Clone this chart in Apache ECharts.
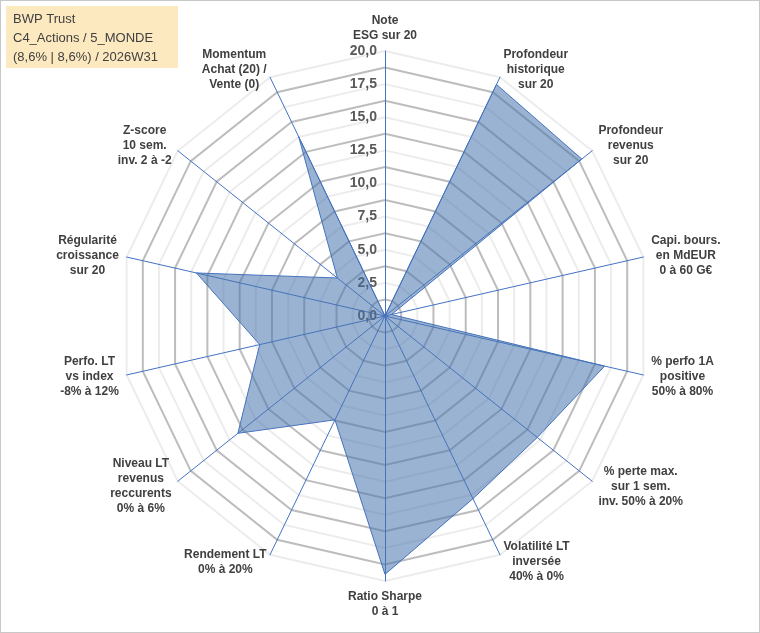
<!DOCTYPE html>
<html><head><meta charset="utf-8">
<script src="https://cdn.jsdelivr.net/npm/echarts@6/dist/echarts.min.js"></script>
<style>html,body{margin:0;padding:0;background:#fff}#c{width:758px;height:631px;border:1px solid #c8c8c8}</style>
</head><body><div id="c"></div>
<script>
// clockwise from top
const categories = ["Note\nESG sur 20","Profondeur\nhistorique\nsur 20","Profondeur\nrevenus\nsur 20","Capi. bours.\nen MdEUR\n0 à 60 G€","% perfo 1A\npositive\n50% à 80%","% perte max.\nsur 1 sem.\ninv. 50% à 20%","Volatilité LT\ninversée\n40% à 0%","Ratio Sharpe\n0 à 1","Rendement LT\n0% à 20%","Niveau LT\nrevenus\nreccurents\n0% à 6%","Perfo. LT\nvs index\n-8% à 12%","Régularité\ncroissance\nsur 20","Z-score\n10 sem.\ninv. 2 à -2","Momentum\nAchat (20) /\nVente (0)"];
const values = [0, 19.4, 19.0, 0.5, 17.0, 14.7, 15.3, 19.5, 8.7, 14.2, 9.7, 14.6, 4.6, 15.0];
const ticks = ["0,0","2,5","5,0","7,5","10,0","12,5","15,0","17,5","20,0"];
const title = "BWP Trust\nC4_Actions / 5_MONDE\n(8,6% | 8,6%) / 2026W31";

const order = [0]; for (let i = categories.length-1; i>0; i--) order.push(i);
const ind = order.map(i => ({name: categories[i], max: 20, min: 0}));
const vals = order.map(i => values[i]);
const splitColors = [];
for (let i=0;i<16;i++) splitColors.push(i%2===0 ? '#ececec' : '#bdbdbd');
const chart = echarts.init(document.getElementById('c'));
const cx = 384, cy = 315, R = 265;
chart.setOption({
  animation:false,
  radar:{
    center:[cx,cy], radius:R, startAngle:90, shape:'polygon', splitNumber:16,
    indicator: ind, nameGap: 8,
    axisName:{color:'#404040', fontWeight:'bold', fontSize:12, fontFamily:'Liberation Sans, Arial', lineHeight:15,
      formatter: n => n.split('\n').map(s => '{c|' + s + '}').join('\n'),
      rich:{c:{align:'center', color:'#404040', fontWeight:'bold', fontSize:12, fontFamily:'Liberation Sans, Arial', lineHeight:15}}},
    axisLine:{lineStyle:{color:'#4472c4', width:1}},
    splitLine:{lineStyle:{color:splitColors, width:[2]}},
    splitArea:{show:false},
    axisLabel:{show:false}
  },
  polar:{center:[cx,cy], radius:R},
  angleAxis:{show:false, startAngle:90, min:0, max:360},
  radiusAxis:{min:0,max:20,interval:2.5, axisLine:{show:false}, axisTick:{show:false}, splitLine:{show:false},
    axisLabel:{formatter:v=>ticks[Math.round(v/2.5)], color:'#595959', fontWeight:'bold', fontSize:14, fontFamily:'Liberation Sans, Arial', align:'right', margin:4, padding:[0,4,0,0]}},
  series:[{type:'radar', symbol:'none', data:[{value:vals}],
    lineStyle:{color:'#4472c4', width:1}, areaStyle:{color:'rgba(72,115,172,0.78)'}}],
  graphic:[{type:'rect', left:5, top:5, shape:{width:172,height:62}, style:{fill:'#fde9c0'}},
    {type:'text', left:12, top:9, style:{text:title, fill:'#404040', font:'13px Liberation Sans, Arial', lineHeight:19}}]
});
</script></body></html>
